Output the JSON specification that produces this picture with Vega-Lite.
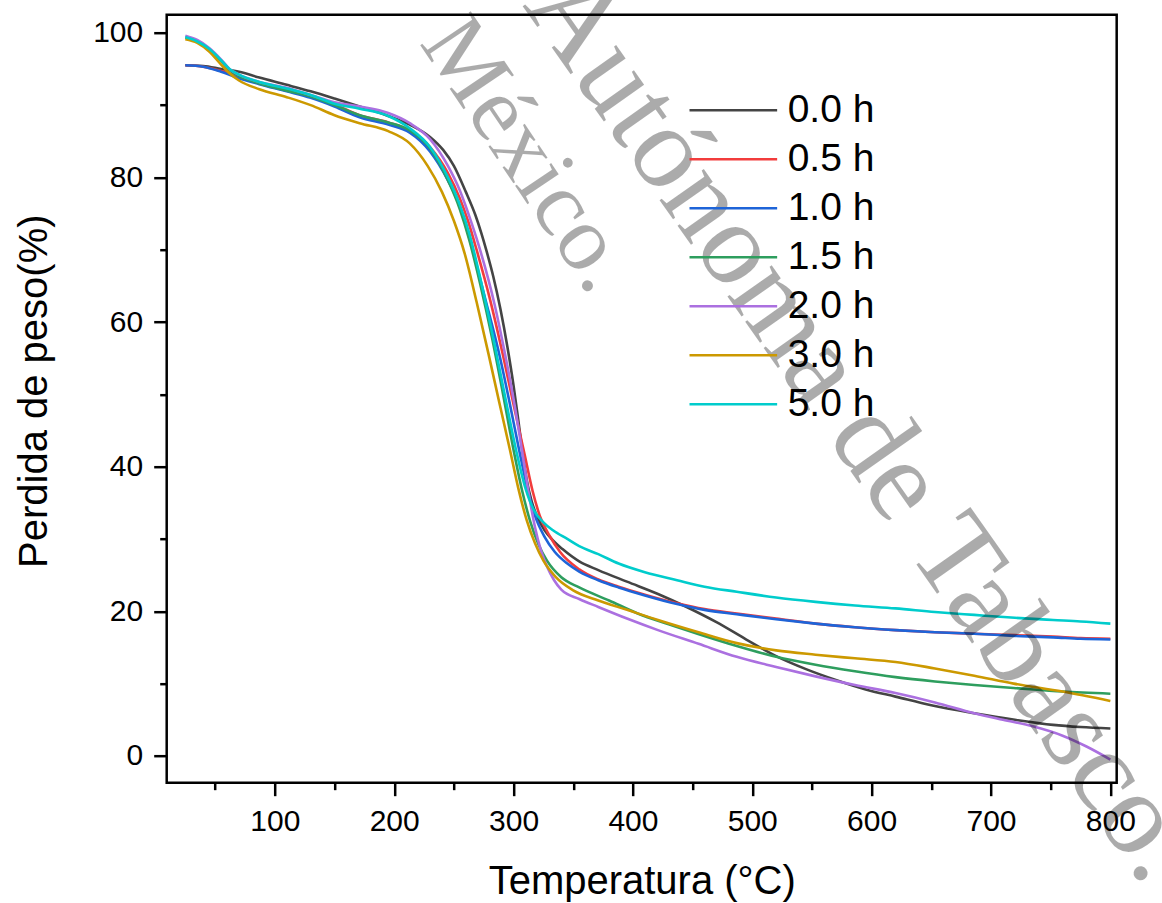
{
  "$schema": "https://vega.github.io/schema/vega-lite/v6.json",
  "autosize": {"type": "none"},
  "padding": {"left": 166.7, "top": 14.7, "right": 45, "bottom": 120},
  "width": 950,
  "height": 768,
  "background": "white",
  "config": {
    "view": {"stroke": "black", "strokeWidth": 2.5},
    "font": "Liberation Sans",
    "legend": {
      "orient": "none", "legendX": 580, "legendY": 76,
      "symbolType": "M-7,0H1", "symbolSize": 480, "symbolStrokeWidth": 2.5,
      "labelFont": "Liberation Sans", "labelFontSize": 39, "labelColor": "black",
      "rowPadding": 9.0, "labelOffset": 2, "padding": 0, "title": null
    }
  },
  "datasets": {
    "tga": [
      {"s":"0.0 h","t":25,"w":95.5},{"s":"0.0 h","t":40,"w":95.4},{"s":"0.0 h","t":55,"w":95.0},{"s":"0.0 h","t":70,"w":94.6},{"s":"0.0 h","t":87,"w":93.8},{"s":"0.0 h","t":110,"w":92.8},{"s":"0.0 h","t":130,"w":91.9},{"s":"0.0 h","t":150,"w":90.9},{"s":"0.0 h","t":171,"w":89.8},{"s":"0.0 h","t":195,"w":88.5},{"s":"0.0 h","t":213,"w":87.3},{"s":"0.0 h","t":230,"w":85.6},{"s":"0.0 h","t":241,"w":83.8},{"s":"0.0 h","t":250,"w":81.6},{"s":"0.0 h","t":260,"w":78.0},{"s":"0.0 h","t":268,"w":74.8},{"s":"0.0 h","t":273,"w":72.3},{"s":"0.0 h","t":277.4,"w":69.8},{"s":"0.0 h","t":283,"w":66.3},{"s":"0.0 h","t":289,"w":61.8},{"s":"0.0 h","t":295,"w":56.4},{"s":"0.0 h","t":300,"w":51.2},{"s":"0.0 h","t":304,"w":46.4},{"s":"0.0 h","t":307.5,"w":42.0},{"s":"0.0 h","t":311,"w":38.2},{"s":"0.0 h","t":315,"w":35.3},{"s":"0.0 h","t":320,"w":33.0},{"s":"0.0 h","t":326,"w":31.2},{"s":"0.0 h","t":333,"w":29.8},{"s":"0.0 h","t":341,"w":28.6},{"s":"0.0 h","t":355,"w":26.9},{"s":"0.0 h","t":371,"w":25.7},{"s":"0.0 h","t":395,"w":24.1},{"s":"0.0 h","t":421,"w":22.4},{"s":"0.0 h","t":445,"w":20.6},{"s":"0.0 h","t":470,"w":18.5},{"s":"0.0 h","t":495,"w":16.1},{"s":"0.0 h","t":520,"w":13.8},{"s":"0.0 h","t":545,"w":12.0},{"s":"0.0 h","t":570,"w":10.5},{"s":"0.0 h","t":595,"w":9.2},{"s":"0.0 h","t":620,"w":8.2},{"s":"0.0 h","t":650,"w":7.0},{"s":"0.0 h","t":686,"w":5.9},{"s":"0.0 h","t":720,"w":5.0},{"s":"0.0 h","t":752,"w":4.3},{"s":"0.0 h","t":775,"w":4.0},{"s":"0.0 h","t":800,"w":3.8},

      {"s":"0.5 h","t":25,"w":95.5},{"s":"0.5 h","t":40,"w":95.3},{"s":"0.5 h","t":55,"w":94.7},{"s":"0.5 h","t":70,"w":93.9},{"s":"0.5 h","t":87,"w":93.1},{"s":"0.5 h","t":110,"w":92.1},{"s":"0.5 h","t":130,"w":91.2},{"s":"0.5 h","t":150,"w":90.1},{"s":"0.5 h","t":171,"w":88.6},{"s":"0.5 h","t":195,"w":87.6},{"s":"0.5 h","t":213,"w":86.5},{"s":"0.5 h","t":230,"w":84.2},{"s":"0.5 h","t":245,"w":80.6},{"s":"0.5 h","t":255,"w":77.1},{"s":"0.5 h","t":262,"w":73.9},{"s":"0.5 h","t":269,"w":70.0},{"s":"0.5 h","t":280,"w":63.3},{"s":"0.5 h","t":291,"w":55.5},{"s":"0.5 h","t":300,"w":48.6},{"s":"0.5 h","t":309.5,"w":41.5},{"s":"0.5 h","t":316,"w":36.6},{"s":"0.5 h","t":322,"w":33.2},{"s":"0.5 h","t":330,"w":30.5},{"s":"0.5 h","t":339,"w":28.2},{"s":"0.5 h","t":355,"w":25.8},{"s":"0.5 h","t":371,"w":24.4},{"s":"0.5 h","t":388,"w":23.4},{"s":"0.5 h","t":410,"w":22.3},{"s":"0.5 h","t":437,"w":21.1},{"s":"0.5 h","t":460,"w":20.3},{"s":"0.5 h","t":487,"w":19.7},{"s":"0.5 h","t":520,"w":19.0},{"s":"0.5 h","t":553,"w":18.3},{"s":"0.5 h","t":586,"w":17.8},{"s":"0.5 h","t":620,"w":17.4},{"s":"0.5 h","t":653,"w":17.1},{"s":"0.5 h","t":686,"w":16.9},{"s":"0.5 h","t":720,"w":16.7},{"s":"0.5 h","t":752,"w":16.5},{"s":"0.5 h","t":775,"w":16.3},{"s":"0.5 h","t":800,"w":16.2},

      {"s":"1.0 h","t":25,"w":95.5},{"s":"1.0 h","t":40,"w":95.3},{"s":"1.0 h","t":55,"w":94.6},{"s":"1.0 h","t":70,"w":93.7},{"s":"1.0 h","t":87,"w":92.9},{"s":"1.0 h","t":110,"w":91.9},{"s":"1.0 h","t":130,"w":91.0},{"s":"1.0 h","t":150,"w":89.8},{"s":"1.0 h","t":171,"w":88.3},{"s":"1.0 h","t":195,"w":87.3},{"s":"1.0 h","t":213,"w":86.2},{"s":"1.0 h","t":230,"w":83.6},{"s":"1.0 h","t":245,"w":79.6},{"s":"1.0 h","t":255,"w":76.0},{"s":"1.0 h","t":264,"w":71.0},{"s":"1.0 h","t":276,"w":63.4},{"s":"1.0 h","t":288.5,"w":55.2},{"s":"1.0 h","t":297,"w":48.6},{"s":"1.0 h","t":305.3,"w":41.8},{"s":"1.0 h","t":312,"w":36.7},{"s":"1.0 h","t":318,"w":33.2},{"s":"1.0 h","t":326,"w":30.3},{"s":"1.0 h","t":334.6,"w":28.2},{"s":"1.0 h","t":345,"w":26.6},{"s":"1.0 h","t":355,"w":25.5},{"s":"1.0 h","t":371,"w":24.3},{"s":"1.0 h","t":388,"w":23.3},{"s":"1.0 h","t":410,"w":22.2},{"s":"1.0 h","t":437,"w":21.0},{"s":"1.0 h","t":460,"w":20.2},{"s":"1.0 h","t":487,"w":19.6},{"s":"1.0 h","t":520,"w":18.9},{"s":"1.0 h","t":553,"w":18.3},{"s":"1.0 h","t":586,"w":17.8},{"s":"1.0 h","t":620,"w":17.4},{"s":"1.0 h","t":653,"w":17.1},{"s":"1.0 h","t":686,"w":16.9},{"s":"1.0 h","t":720,"w":16.6},{"s":"1.0 h","t":752,"w":16.4},{"s":"1.0 h","t":775,"w":16.2},{"s":"1.0 h","t":800,"w":16.1},

      {"s":"1.5 h","t":25,"w":99.3},{"s":"1.5 h","t":35,"w":98.8},{"s":"1.5 h","t":45,"w":97.7},{"s":"1.5 h","t":55,"w":96.1},{"s":"1.5 h","t":62,"w":94.8},{"s":"1.5 h","t":70,"w":94.0},{"s":"1.5 h","t":87,"w":93.0},{"s":"1.5 h","t":110,"w":92.0},{"s":"1.5 h","t":130,"w":91.2},{"s":"1.5 h","t":150,"w":90.0},{"s":"1.5 h","t":171,"w":88.6},{"s":"1.5 h","t":195,"w":87.6},{"s":"1.5 h","t":213,"w":86.5},{"s":"1.5 h","t":230,"w":84.0},{"s":"1.5 h","t":245,"w":79.6},{"s":"1.5 h","t":255,"w":75.6},{"s":"1.5 h","t":263,"w":71.3},{"s":"1.5 h","t":272,"w":65.3},{"s":"1.5 h","t":282,"w":57.8},{"s":"1.5 h","t":291,"w":50.2},{"s":"1.5 h","t":300,"w":42.3},{"s":"1.5 h","t":307,"w":36.8},{"s":"1.5 h","t":314,"w":32.4},{"s":"1.5 h","t":321,"w":29.2},{"s":"1.5 h","t":328,"w":27.0},{"s":"1.5 h","t":340,"w":24.7},{"s":"1.5 h","t":355,"w":23.3},{"s":"1.5 h","t":380,"w":21.5},{"s":"1.5 h","t":404,"w":19.7},{"s":"1.5 h","t":430,"w":18.2},{"s":"1.5 h","t":454,"w":16.9},{"s":"1.5 h","t":487,"w":15.2},{"s":"1.5 h","t":520,"w":13.7},{"s":"1.5 h","t":553,"w":12.6},{"s":"1.5 h","t":586,"w":11.7},{"s":"1.5 h","t":620,"w":10.9},{"s":"1.5 h","t":653,"w":10.3},{"s":"1.5 h","t":686,"w":9.8},{"s":"1.5 h","t":719,"w":9.4},{"s":"1.5 h","t":760,"w":8.9},{"s":"1.5 h","t":800,"w":8.6},

      {"s":"2.0 h","t":25,"w":99.6},{"s":"2.0 h","t":35,"w":99.0},{"s":"2.0 h","t":45,"w":97.9},{"s":"2.0 h","t":55,"w":96.3},{"s":"2.0 h","t":62,"w":95.0},{"s":"2.0 h","t":70,"w":94.2},{"s":"2.0 h","t":87,"w":93.2},{"s":"2.0 h","t":110,"w":92.4},{"s":"2.0 h","t":130,"w":91.4},{"s":"2.0 h","t":150,"w":90.4},{"s":"2.0 h","t":171,"w":89.8},{"s":"2.0 h","t":195,"w":88.9},{"s":"2.0 h","t":213,"w":87.5},{"s":"2.0 h","t":230,"w":85.3},{"s":"2.0 h","t":245,"w":81.6},{"s":"2.0 h","t":255,"w":78.2},{"s":"2.0 h","t":265,"w":73.6},{"s":"2.0 h","t":273,"w":69.4},{"s":"2.0 h","t":284,"w":62.5},{"s":"2.0 h","t":294,"w":54.6},{"s":"2.0 h","t":301,"w":48.4},{"s":"2.0 h","t":307,"w":42.3},{"s":"2.0 h","t":313,"w":36.0},{"s":"2.0 h","t":318,"w":31.6},{"s":"2.0 h","t":323,"w":28.4},{"s":"2.0 h","t":328,"w":26.2},{"s":"2.0 h","t":334,"w":24.3},{"s":"2.0 h","t":340,"w":23.0},{"s":"2.0 h","t":355,"w":21.7},{"s":"2.0 h","t":371,"w":20.6},{"s":"2.0 h","t":395,"w":19.0},{"s":"2.0 h","t":421,"w":17.4},{"s":"2.0 h","t":455,"w":15.5},{"s":"2.0 h","t":487,"w":13.7},{"s":"2.0 h","t":520,"w":12.3},{"s":"2.0 h","t":553,"w":11.0},{"s":"2.0 h","t":586,"w":9.8},{"s":"2.0 h","t":620,"w":8.7},{"s":"2.0 h","t":653,"w":7.4},{"s":"2.0 h","t":686,"w":5.9},{"s":"2.0 h","t":710,"w":5.0},{"s":"2.0 h","t":735,"w":4.1},{"s":"2.0 h","t":760,"w":2.8},{"s":"2.0 h","t":780,"w":1.3},{"s":"2.0 h","t":800,"w":-0.5},

      {"s":"3.0 h","t":25,"w":99.1},{"s":"3.0 h","t":35,"w":98.6},{"s":"3.0 h","t":45,"w":97.4},{"s":"3.0 h","t":55,"w":95.6},{"s":"3.0 h","t":62,"w":94.4},{"s":"3.0 h","t":70,"w":93.4},{"s":"3.0 h","t":87,"w":92.2},{"s":"3.0 h","t":110,"w":91.1},{"s":"3.0 h","t":130,"w":90.0},{"s":"3.0 h","t":150,"w":88.6},{"s":"3.0 h","t":171,"w":87.5},{"s":"3.0 h","t":195,"w":86.4},{"s":"3.0 h","t":213,"w":84.7},{"s":"3.0 h","t":228,"w":81.6},{"s":"3.0 h","t":240,"w":78.0},{"s":"3.0 h","t":250,"w":74.0},{"s":"3.0 h","t":259,"w":69.5},{"s":"3.0 h","t":269,"w":62.8},{"s":"3.0 h","t":279,"w":55.6},{"s":"3.0 h","t":288,"w":48.9},{"s":"3.0 h","t":297,"w":42.3},{"s":"3.0 h","t":304,"w":37.0},{"s":"3.0 h","t":311,"w":32.6},{"s":"3.0 h","t":318,"w":29.4},{"s":"3.0 h","t":325,"w":27.0},{"s":"3.0 h","t":335,"w":24.8},{"s":"3.0 h","t":350,"w":22.9},{"s":"3.0 h","t":371,"w":21.5},{"s":"3.0 h","t":395,"w":20.2},{"s":"3.0 h","t":421,"w":18.8},{"s":"3.0 h","t":455,"w":17.1},{"s":"3.0 h","t":487,"w":15.6},{"s":"3.0 h","t":520,"w":14.6},{"s":"3.0 h","t":553,"w":14.0},{"s":"3.0 h","t":586,"w":13.5},{"s":"3.0 h","t":620,"w":13.0},{"s":"3.0 h","t":653,"w":12.1},{"s":"3.0 h","t":686,"w":11.1},{"s":"3.0 h","t":719,"w":10.0},{"s":"3.0 h","t":760,"w":8.9},{"s":"3.0 h","t":800,"w":7.6},

      {"s":"5.0 h","t":25,"w":99.4},{"s":"5.0 h","t":35,"w":98.8},{"s":"5.0 h","t":45,"w":97.8},{"s":"5.0 h","t":55,"w":96.2},{"s":"5.0 h","t":62,"w":95.0},{"s":"5.0 h","t":70,"w":94.2},{"s":"5.0 h","t":87,"w":93.2},{"s":"5.0 h","t":110,"w":92.3},{"s":"5.0 h","t":130,"w":91.4},{"s":"5.0 h","t":150,"w":90.2},{"s":"5.0 h","t":171,"w":89.5},{"s":"5.0 h","t":195,"w":88.5},{"s":"5.0 h","t":213,"w":86.8},{"s":"5.0 h","t":230,"w":84.2},{"s":"5.0 h","t":245,"w":80.0},{"s":"5.0 h","t":255,"w":76.2},{"s":"5.0 h","t":263,"w":72.2},{"s":"5.0 h","t":273,"w":65.4},{"s":"5.0 h","t":284,"w":57.0},{"s":"5.0 h","t":293,"w":49.6},{"s":"5.0 h","t":302.5,"w":42.0},{"s":"5.0 h","t":310,"w":37.0},{"s":"5.0 h","t":317,"w":34.0},{"s":"5.0 h","t":325,"w":32.3},{"s":"5.0 h","t":333,"w":31.2},{"s":"5.0 h","t":345,"w":30.0},{"s":"5.0 h","t":355,"w":29.0},{"s":"5.0 h","t":371,"w":27.9},{"s":"5.0 h","t":388,"w":26.6},{"s":"5.0 h","t":410,"w":25.4},{"s":"5.0 h","t":437,"w":24.3},{"s":"5.0 h","t":460,"w":23.4},{"s":"5.0 h","t":487,"w":22.7},{"s":"5.0 h","t":520,"w":21.9},{"s":"5.0 h","t":553,"w":21.3},{"s":"5.0 h","t":586,"w":20.8},{"s":"5.0 h","t":620,"w":20.4},{"s":"5.0 h","t":653,"w":19.9},{"s":"5.0 h","t":686,"w":19.5},{"s":"5.0 h","t":720,"w":19.1},{"s":"5.0 h","t":752,"w":18.8},{"s":"5.0 h","t":775,"w":18.6},{"s":"5.0 h","t":800,"w":18.3}
    ],
    "marca": [
      {"t": 307.0, "w": 103.8, "txt": "Autónoma de Tabasco.", "linea": 1},
      {"t": 220.5, "w": 98.6, "txt": "México.", "linea": 2}
    ]
  },
  "layer": [
    {
      "data": {"name": "tga"},
      "mark": {"type": "line", "strokeWidth": 2.6, "interpolate": "monotone"},
      "encoding": {
        "x": {
          "field": "t", "type": "quantitative",
          "scale": {"domain": [9.4, 805.3], "nice": false, "zero": false},
          "axis": {
            "values": [50,100,150,200,250,300,350,400,450,500,550,600,650,700,750,800],
            "labelExpr": "datum.value % 100 === 0 ? datum.label : ''",
            "tickSize": {"condition": {"test": "datum.value % 100 !== 0", "value": 7}, "value": 13},
            "tickWidth": 2.5, "tickColor": "black", "domain": false, "grid": false,
            "labelFont": "Liberation Sans", "labelFontSize": 30, "labelColor": "black", "labelPadding": 11,
            "title": "Temperatura (°C)", "titleFont": "Liberation Sans", "titleFontSize": 40,
            "titleFontWeight": "normal", "titleColor": "black", "titlePadding": 25
          }
        },
        "y": {
          "field": "w", "type": "quantitative",
          "scale": {"domain": [-3.7, 102.5], "nice": false, "zero": false},
          "axis": {
            "values": [0,10,20,30,40,50,60,70,80,90,100],
            "labelExpr": "datum.value % 20 === 0 ? datum.label : ''",
            "tickSize": {"condition": {"test": "datum.value % 20 !== 0", "value": 7}, "value": 13},
            "tickWidth": 2.5, "tickColor": "black", "domain": false, "grid": false,
            "labelFont": "Liberation Sans", "labelFontSize": 30, "labelColor": "black", "labelPadding": 11,
            "title": "Perdida de peso(%)", "titleFont": "Liberation Sans", "titleFontSize": 40,
            "titleFontWeight": "normal", "titleColor": "black", "titlePadding": 38, "titleY": 376
          }
        },
        "color": {
          "field": "s", "type": "nominal",
          "scale": {
            "domain": ["0.0 h","0.5 h","1.0 h","1.5 h","2.0 h","3.0 h","5.0 h"],
            "range": ["#444444","#F23C3C","#1E64D8","#2E9E5E","#AB70E0","#CC9900","#00CCCC"]
          }
        }
      }
    },
    {
      "data": {"name": "marca"},
      "transform": [{"filter": "datum.linea === 1"}],
      "mark": {"type": "text", "angle": 54.8, "align": "left", "baseline": "alphabetic", "font": "Liberation Serif", "fontSize": 118, "fill": "#000000", "fillOpacity": 0.33},
      "encoding": {
        "x": {"field": "t", "type": "quantitative"},
        "y": {"field": "w", "type": "quantitative"},
        "text": {"field": "txt"}
      }
    },
    {
      "data": {"name": "marca"},
      "transform": [{"filter": "datum.linea === 2"}],
      "mark": {"type": "text", "angle": 56, "align": "left", "baseline": "alphabetic", "font": "Liberation Serif", "fontSize": 93, "fill": "#000000", "fillOpacity": 0.33},
      "encoding": {
        "x": {"field": "t", "type": "quantitative"},
        "y": {"field": "w", "type": "quantitative"},
        "text": {"field": "txt"}
      }
    }
  ]
}
